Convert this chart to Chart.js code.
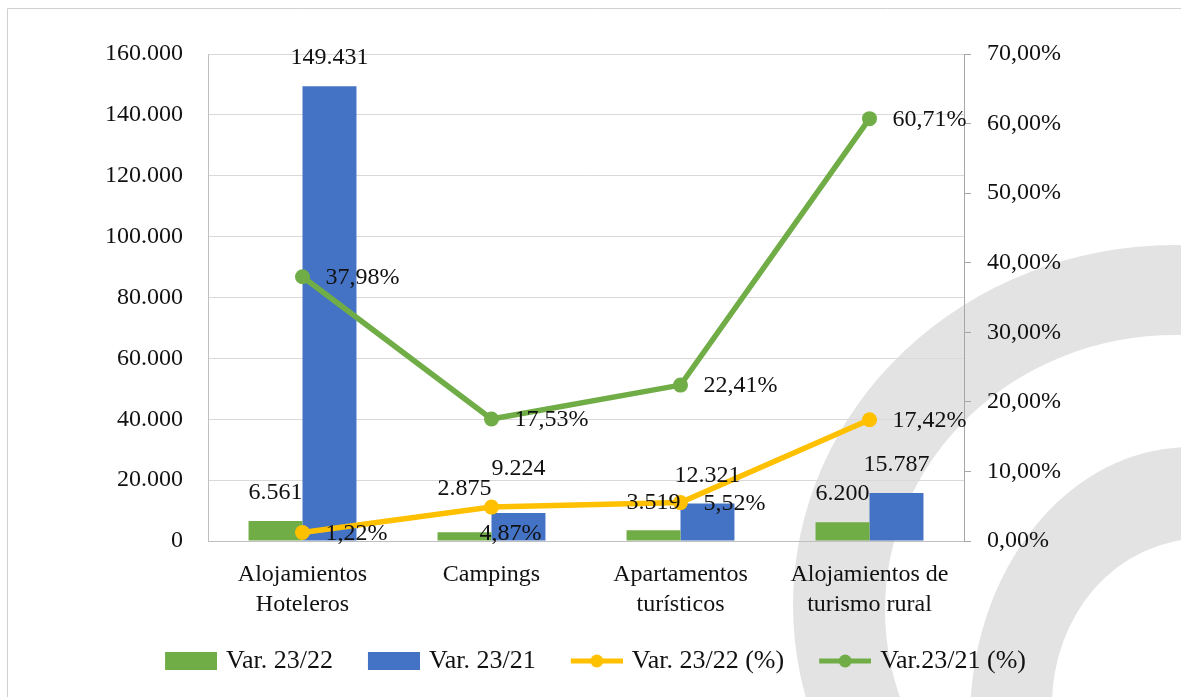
<!DOCTYPE html>
<html>
<head>
<meta charset="utf-8">
<style>
  html, body { margin: 0; padding: 0; background: #ffffff; }
  #wrap { width: 1181px; height: 697px; position: relative; }
</style>
<script src="https://cdn.jsdelivr.net/npm/chart.js@4.4.1/dist/chart.umd.min.js"></script>
</head>
<body>
<div id="wrap"><canvas id="c" width="1181" height="697"></canvas></div>
<script>
// ---- Data ----
const categories = [
  ['Alojamientos', 'Hoteleros'],
  'Campings',
  ['Apartamentos', 'turísticos'],
  ['Alojamientos de', 'turismo rural']
];
const seriesNames = ['Var. 23/22', 'Var. 23/21', 'Var. 23/22 (%)', 'Var.23/21 (%)'];
const var2322 = [6561, 2875, 3519, 6200];
const var2321 = [149431, 9224, 12321, 15787];
const pct2322 = [1.22, 4.87, 5.52, 17.42];
const pct2321 = [37.98, 17.53, 22.41, 60.71];
const leftTicks = { min: 0, max: 160000, step: 20000 };
const rightTicks = { min: 0, max: 70, step: 10 };

// ---- Styles ----
const GREEN = '#70AD47';
const BLUE = '#4472C4';
const YELLOW = '#FFC000';
const FONT = "'Liberation Serif', 'Times New Roman', serif";
const TEXT = '#111111';

function fmtThousands(n) {
  return String(Math.round(n)).replace(/\B(?=(\d{3})+(?!\d))/g, '.');
}
function fmtPct(v) {
  return v.toFixed(2).replace('.', ',') + '%';
}

function legendImage(kind, color) {
  const cv = document.createElement('canvas');
  cv.width = 66; cv.height = 20;
  const g = cv.getContext('2d');
  const x0 = 14;
  g.fillStyle = color;
  g.strokeStyle = color;
  if (kind === 'bar') {
    g.fillRect(x0, 1, 52, 18);
  } else {
    g.lineWidth = 5;
    g.beginPath(); g.moveTo(x0, 10); g.lineTo(x0 + 52, 10); g.stroke();
    g.beginPath(); g.arc(x0 + 26, 10, 6.5, 0, Math.PI * 2); g.fill();
  }
  return cv;
}

// background decoration (frame + light grey rings)
const backgroundPlugin = {
  id: 'bgDeco',
  beforeDraw(chart) {
    const ctx = chart.ctx;
    ctx.save();
    ctx.fillStyle = '#e3e3e3';
    ctx.beginPath();
    ctx.ellipse(1175, 605, 382, 360, 0, 0, Math.PI * 2);
    ctx.ellipse(1175, 610, 290, 275, 0, 0, Math.PI * 2);
    ctx.fill('evenodd');
    ctx.beginPath();
    ctx.ellipse(1190, 720, 220, 273, 0, 0, Math.PI * 2);
    ctx.ellipse(1200, 705, 148, 166, 0, 0, Math.PI * 2);
    ctx.fill('evenodd');
    ctx.strokeStyle = '#d0d0d0';
    ctx.lineWidth = 1;
    ctx.beginPath();
    ctx.moveTo(7.5, 697); ctx.lineTo(7.5, 8.5); ctx.lineTo(1181, 8.5);
    ctx.stroke();
    ctx.restore();
  }
};

// data labels
const labelPlugin = {
  id: 'valueLabels',
  afterDatasetsDraw(chart, args, opts) {
    const ctx = chart.ctx;
    ctx.save();
    ctx.font = '24px ' + FONT;
    ctx.fillStyle = TEXT;
    ctx.textBaseline = 'middle';
    chart.data.datasets.forEach((ds, di) => {
      const meta = chart.getDatasetMeta(di);
      meta.data.forEach((el, i) => {
        const v = ds.data[i];
        if (ds.type === 'bar') {
          ctx.textAlign = 'center';
          const lift = opts.barLift[i] || 0;
          ctx.fillText(fmtThousands(v), el.x, el.y - 28 - lift);
        } else {
          const below = (opts.lineBelow[di] || [])[i];
          if (below) {
            ctx.textAlign = 'center';
            ctx.fillText(fmtPct(v), el.x + 19, el.y + 27);
          } else {
            ctx.textAlign = 'left';
            ctx.fillText(fmtPct(v), el.x + 23, el.y + 1);
          }
        }
      });
    });
    ctx.restore();
  }
};

const ctx = document.getElementById('c').getContext('2d');
new Chart(ctx, {
  data: {
    labels: categories,
    datasets: [
      { type: 'bar', label: seriesNames[0], data: var2322, backgroundColor: GREEN, yAxisID: 'y', order: 2,
        categoryPercentage: 0.571, barPercentage: 1.0 },
      { type: 'bar', label: seriesNames[1], data: var2321, backgroundColor: BLUE, yAxisID: 'y', order: 2,
        categoryPercentage: 0.571, barPercentage: 1.0 },
      { type: 'line', label: seriesNames[2], data: pct2322, borderColor: YELLOW, backgroundColor: YELLOW,
        yAxisID: 'y1', order: 1, borderWidth: 5.5, pointRadius: 7.5, pointBorderWidth: 0,
        pointBackgroundColor: YELLOW, tension: 0 },
      { type: 'line', label: seriesNames[3], data: pct2321, borderColor: GREEN, backgroundColor: GREEN,
        yAxisID: 'y1', order: 0, borderWidth: 5.5, pointRadius: 7.5, pointBorderWidth: 0,
        pointBackgroundColor: GREEN, tension: 0 }
    ]
  },
  options: {
    responsive: false,
    animation: false,
    layout: { padding: { top: 54, left: 0, right: 0, bottom: 13 } },
    plugins: {
      tooltip: { enabled: false },
      valueLabels: { barLift: [0, 16, 0, 0], lineBelow: { 2: [false, true, false, false] } },
      legend: {
        position: 'bottom',
        labels: {
          usePointStyle: true,
          pointStyleWidth: 58,
          padding: 25,
          color: TEXT,
          font: { family: FONT, size: 26 },
          generateLabels(chart) {
            return chart.data.datasets.map((ds, i) => ({
              text: ds.label,
              pointStyle: legendImage(ds.type === 'bar' ? 'bar' : 'line', ds.type === 'bar' ? ds.backgroundColor : ds.borderColor),
              fillStyle: ds.backgroundColor,
              strokeStyle: ds.backgroundColor,
              lineWidth: 0,
              hidden: false,
              datasetIndex: i,
              fontColor: TEXT
            }));
          }
        }
      }
    },
    scales: {
      x: {
        grid: { display: false, drawTicks: false },
        border: { display: true, color: '#bfbfbf', width: 1 },
        ticks: { color: TEXT, font: { family: FONT, size: 24, lineHeight: 1.27 }, padding: 18, maxRotation: 0, autoSkip: false },
        afterFit(scale) { scale.height = 82; }
      },
      y: {
        position: 'left',
        min: leftTicks.min, max: leftTicks.max,
        grid: { color: '#d9d9d9', drawTicks: false, lineWidth: 1 },
        border: { display: true, color: '#bfbfbf', width: 1 },
        ticks: { stepSize: leftTicks.step, color: TEXT, font: { family: FONT, size: 24 }, padding: 25,
          callback: v => fmtThousands(v) },
        afterFit(scale) { scale.width = 208; }
      },
      y1: {
        position: 'right',
        min: rightTicks.min, max: rightTicks.max,
        grid: { drawOnChartArea: false, drawTicks: true, tickLength: 7, color: '#a6a6a6' },
        border: { display: true, color: '#a6a6a6', width: 1 },
        ticks: { stepSize: rightTicks.step, color: TEXT, font: { family: FONT, size: 24 }, padding: 16,
          callback: v => fmtPct(v) },
        afterFit(scale) { scale.width = 217; }
      }
    }
  },
  plugins: [backgroundPlugin, labelPlugin]
});
</script>
</body>
</html>
